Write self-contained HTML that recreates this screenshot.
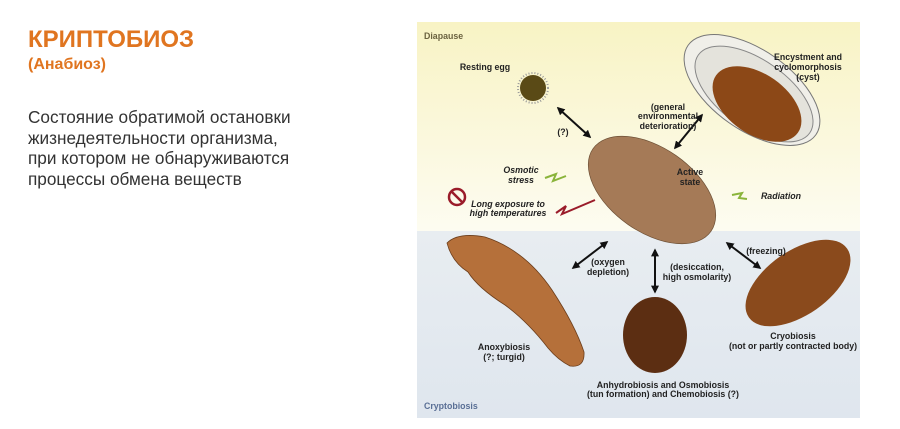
<!DOCTYPE html>
<html><head><meta charset="utf-8"><style>
html,body{margin:0;padding:0;background:#fff;width:900px;height:429px;overflow:hidden;font-family:"Liberation Sans","Noto Sans CJK SC",sans-serif}
.t{position:absolute;left:28px;color:#e07520;font-weight:bold}
.b{position:absolute;left:28px;top:107px;font-size:17.2px;line-height:20.5px;color:#333}
svg{position:absolute;left:0;top:0}
svg text{font-family:"Liberation Sans",sans-serif;font-size:8.8px;font-weight:bold;fill:#222}
</style></head><body>
<div class="t" style="top:26px;font-size:24px">КРИПТОБИОЗ</div>
<div class="t" style="top:56px;font-size:16px">(Анабиоз)</div>
<div class="b">Состояние обратимой остановки<br>жизнедеятельности организма,<br>при котором не обнаруживаются<br>процессы обмена веществ</div>
<svg width="900" height="429" viewBox="0 0 900 429">
<defs>
<linearGradient id="y" x1="0" y1="0" x2="0" y2="1"><stop offset="0" stop-color="#f8f3c4"/><stop offset="1" stop-color="#fdfcf1"/></linearGradient>
<linearGradient id="bl" x1="0" y1="0" x2="0" y2="1"><stop offset="0" stop-color="#e8edf1"/><stop offset="1" stop-color="#dfe6ee"/></linearGradient>
<marker id="a" viewBox="0 0 10 10" refX="8" refY="5" markerWidth="4" markerHeight="4" orient="auto-start-reverse"><path d="M0,0L10,5L0,10z" fill="#111"/></marker>
</defs>
<rect x="417" y="22" width="443" height="209" fill="url(#y)"/>
<rect x="417" y="231" width="443" height="187" fill="url(#bl)"/>
<text x="424" y="39" style="fill:#6b6340">Diapause</text>
<text x="424" y="409" style="fill:#5a6f95">Cryptobiosis</text>
<circle cx="533" cy="88" r="15" fill="none" stroke="#999" stroke-width="2" stroke-dasharray="1 2"/>
<circle cx="533" cy="88" r="13" fill="#5a4a16"/>
<ellipse cx="752" cy="90" rx="78" ry="40" transform="rotate(35 752 90)" fill="#f0efe9" stroke="#777"/>
<ellipse cx="754" cy="94" rx="68" ry="34" transform="rotate(35 754 94)" fill="#e4e3dc" stroke="#888"/>
<ellipse cx="757" cy="104" rx="50" ry="30" transform="rotate(35 757 104)" fill="#8c4817"/>
<ellipse cx="652" cy="190" rx="72" ry="42" transform="rotate(35 652 190)" fill="#a57a57" stroke="#6d5036" stroke-width="0.7"/>
<path d="M447,243 Q458,232 485,237 Q525,250 552,290 Q575,325 584,352 Q585,368 570,366 Q558,360 548,348 Q528,322 505,305 Q478,288 468,272 Q452,262 447,243z" fill="#b5703a" stroke="#6b3d1b" stroke-width="0.8"/>
<ellipse cx="655" cy="335" rx="32" ry="38" fill="#5c2e12"/>
<ellipse cx="798" cy="283" rx="60" ry="32" transform="rotate(-35 798 283)" fill="#8a4a1c"/>
<g stroke="#111" stroke-width="2" marker-start="url(#a)" marker-end="url(#a)">
<line x1="558" y1="108" x2="590" y2="137"/>
<line x1="702" y1="115" x2="675" y2="148"/>
<line x1="607" y1="242" x2="573" y2="268"/>
<line x1="655" y1="250" x2="655" y2="292"/>
<line x1="727" y1="243" x2="760" y2="268"/>
</g>
<polyline points="545,178 556,174 553,181 566,176" fill="none" stroke="#8ab43a" stroke-width="2"/>
<polyline points="747,199 739,198 742,193 732,195" fill="none" stroke="#8ab43a" stroke-width="2"/>
<polyline points="556,213 566,206 562,214 595,200" fill="none" stroke="#9a1c2a" stroke-width="2"/>
<circle cx="457" cy="197" r="8" fill="none" stroke="#9a1c2a" stroke-width="2.5"/>
<line x1="452" y1="192" x2="462" y2="202" stroke="#9a1c2a" stroke-width="2.5"/>
<g text-anchor="middle">
<text x="485" y="70">Resting egg</text>
<text x="563" y="135">(?)</text>
<text x="668" y="110">(general</text><text x="668" y="119">environmental</text><text x="668" y="129">deterioration)</text>
<text x="808" y="60">Encystment and</text><text x="808" y="70">cyclomorphosis</text><text x="808" y="80">(cyst)</text>
<text x="521" y="173" font-style="italic">Osmotic</text><text x="521" y="183" font-style="italic">stress</text>
<text x="690" y="175">Active</text><text x="690" y="185">state</text>
<text x="781" y="199" font-style="italic">Radiation</text>
<text x="508" y="207" font-style="italic">Long exposure to</text><text x="508" y="216" font-style="italic">high temperatures</text>
<text x="608" y="265">(oxygen</text><text x="608" y="275">depletion)</text>
<text x="697" y="270">(desiccation,</text><text x="697" y="280">high osmolarity)</text>
<text x="766" y="254">(freezing)</text>
<text x="504" y="350">Anoxybiosis</text><text x="504" y="360">(?; turgid)</text>
<text x="793" y="339">Cryobiosis</text><text x="793" y="349">(not or partly contracted body)</text>
<text x="663" y="388">Anhydrobiosis and Osmobiosis</text><text x="663" y="397">(tun formation) and Chemobiosis (?)</text>
</g>
</svg>
</body></html>
